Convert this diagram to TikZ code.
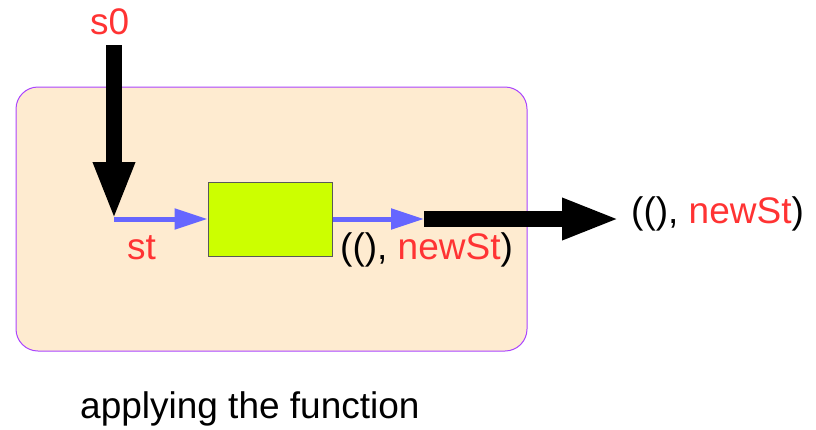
\documentclass[tikz,border=0pt]{standalone}
\usepackage{fontspec}
\setmainfont{Liberation Sans}
\usetikzlibrary{arrows.meta}
\definecolor{rd}{HTML}{FF3333}
\definecolor{bl}{HTML}{6666FF}
\definecolor{boxfill}{HTML}{FEEBD0}
\definecolor{boxline}{HTML}{AA44FF}
\definecolor{grn}{HTML}{CCFF00}
\tikzset{
  lbl/.style={inner sep=0pt, anchor=base west, font=\fontsize{37}{41}\selectfont},
  bigarrow/.style={line width=16pt, line cap=butt, -{Triangle[length=58pt, width=38pt]}},
  bluearrow/.style={bl, line width=5pt, line cap=butt, -{Triangle[length=33pt, width=20pt]}},
}
\begin{document}
\begin{tikzpicture}[x=1pt, y=-1pt]
\useasboundingbox (0,0) rectangle (816,429);
\node[draw=boxline, fill=boxfill, line width=1pt, rounded corners=22pt, minimum width=511pt, minimum height=264pt, inner sep=0pt] (outer) at (271.5,219) {};
\node[draw=black!65, fill=grn, line width=1pt, minimum width=124pt, minimum height=74pt, inner sep=0pt] (func) at (270,219) {};
\node[lbl, text=rd] (s0) at (90,34) {s0};
\node[lbl, text=rd] (st) at (127,259) {st};
\node[lbl] (innerout) at (340,259) {((), \textcolor{rd}{newSt})};
\node[lbl] (outerout) at (631,223) {((), \textcolor{rd}{newSt})};
\node[lbl] (caption) at (80,418) {applying the function};
\coordinate (s0end) at (114,45);
\coordinate (junc) at (114,220);
\coordinate (mid) at (424,219);
\coordinate (outend) at (620,219);
\draw[bigarrow] (s0end) -- (junc);
\draw[bluearrow] (junc |- func.west) -- (func.west);
\draw[bluearrow] (func.east) -- (mid);
\draw[bigarrow] (mid) -- (outend);
\end{tikzpicture}
\end{document}
